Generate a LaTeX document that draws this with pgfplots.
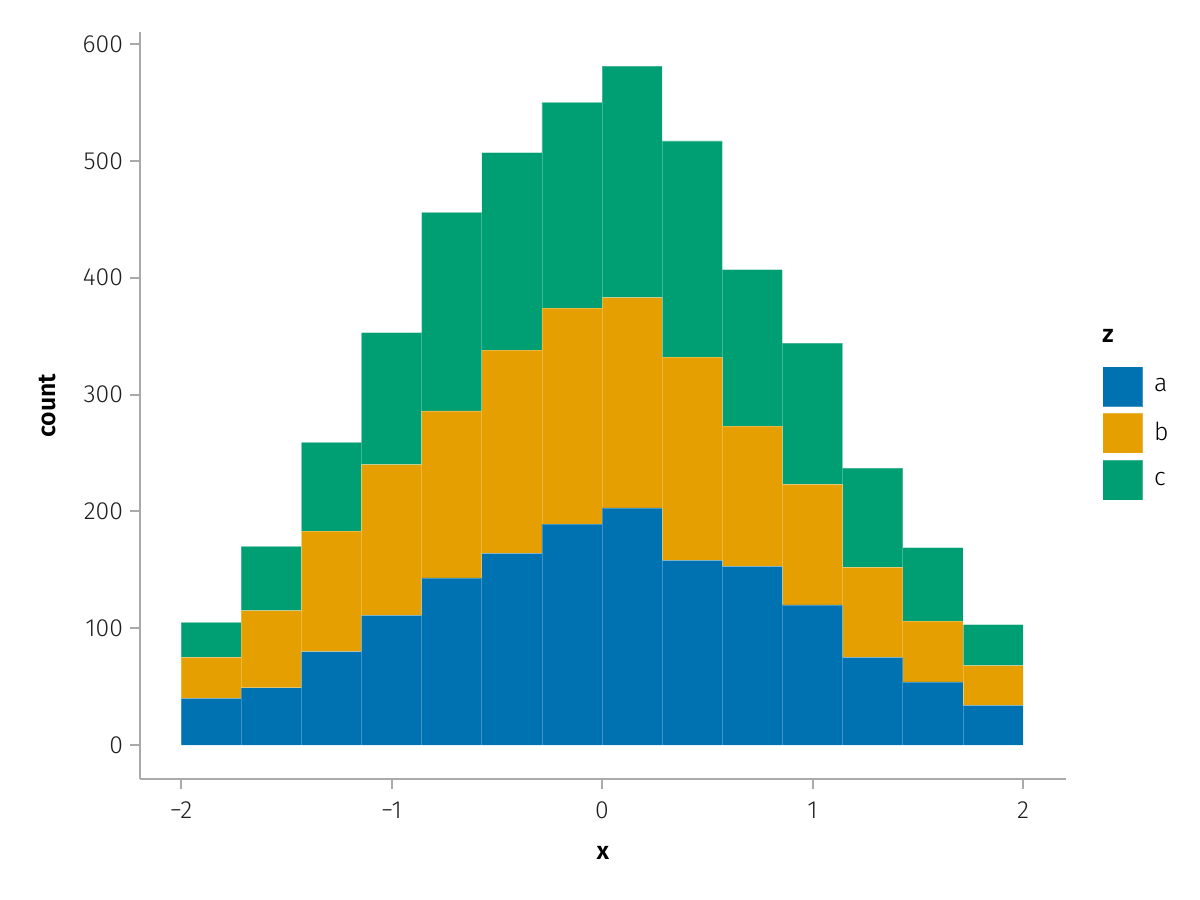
\documentclass[border=0pt]{standalone}
\usepackage{pgfplots}
\pgfplotsset{compat=1.18}
\usepackage{fontspec}
\setmainfont{Fira Sans Light}[BoldFont={Fira Sans SemiBold}]
\definecolor{ca}{HTML}{0072B2}
\definecolor{cb}{HTML}{E69F00}
\definecolor{cc}{HTML}{009E73}
\definecolor{spine}{RGB}{170,170,170}
\begin{document}
\begin{tikzpicture}
\begin{axis}[
  scale only axis, width=463pt, height=373.5pt,
  xmin=-2.195, xmax=2.204, ymin=-29.1, ymax=610.3,
  clip=false,
  axis x line*=bottom, axis y line*=left,
  axis line style={spine, line width=1pt, -},
  tick style={spine, line width=1pt},
  tick align=outside, major tick length=5pt,
  xtick={-2,-1,0,1,2}, xticklabels={−2,−1,0,1,2},
  ytick={0,100,200,300,400,500,600},
  ticklabel style={font=\fontsize{12.4}{14}\selectfont, text=black!88},
  xticklabel style={yshift=-3pt},
  /pgf/number format/assume math mode=true,
  xlabel={\textbf{x}}, ylabel={\textbf{count}},
  label style={font=\fontsize{12.4}{14}\selectfont, text=black},
  xlabel style={at={(axis description cs:0.5,-0.0991)}, anchor=center},
  ylabel style={at={(axis description cs:-0.0994,0.5)}, anchor=center},
  ybar stacked, bar width=0.285714,
  legend style={draw=none, fill=none, at={(1.0389,0.5529)}, anchor=north west,
    inner sep=0pt, row sep=3pt, font=\fontsize{12.4}{14}\selectfont,
    nodes={inner sep=0pt}},
  legend cell align=left,
  /tikz/every odd column/.style={column sep=5.5pt},
  legend image code/.code={\fill[#1] (0pt,-10pt) rectangle (20pt,10pt);},
]
\addplot[fill=ca, draw=white, draw opacity=0.25, line width=0.3pt] coordinates {
(-1.857143,40) (-1.571429,49) (-1.285714,80) (-1.0,111) (-0.714286,143) (-0.428571,164) (-0.142857,189)
(0.142857,203) (0.428571,158) (0.714286,153) (1.0,120) (1.285714,75) (1.571429,54) (1.857143,34)};
\addlegendentry{a}
\addplot[fill=cb, draw=white, draw opacity=0.25, line width=0.3pt] coordinates {
(-1.857143,35) (-1.571429,66) (-1.285714,103) (-1.0,129) (-0.714286,143) (-0.428571,174) (-0.142857,185)
(0.142857,180) (0.428571,174) (0.714286,120) (1.0,103) (1.285714,77) (1.571429,52) (1.857143,34)};
\addlegendentry{b}
\addplot[fill=cc, draw=white, draw opacity=0.25, line width=0.3pt] coordinates {
(-1.857143,30) (-1.571429,55) (-1.285714,76) (-1.0,113) (-0.714286,170) (-0.428571,169) (-0.142857,176)
(0.142857,198) (0.428571,185) (0.714286,134) (1.0,121) (1.285714,85) (1.571429,63) (1.857143,35)};
\addlegendentry{c}
\node[font=\fontsize{12.4}{14}\selectfont\bfseries, anchor=center] at (axis description cs:1.0454,0.593) {z};
\end{axis}
\path ([shift={(-70pt,-60.5pt)}]current axis.south west) rectangle ([shift={(67pt,16pt)}]current axis.north east);
\end{tikzpicture}
\end{document}
